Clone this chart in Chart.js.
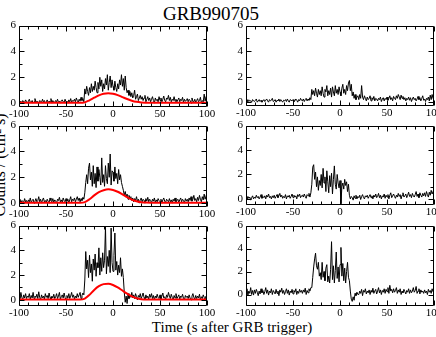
<!DOCTYPE html>
<html><head><meta charset="utf-8">
<script src="https://cdn.jsdelivr.net/npm/chart.js@4/dist/chart.umd.min.js"></script>
<style>
html,body{margin:0;padding:0;background:#fff;overflow:hidden;width:436px;height:337px;position:relative;}
canvas{position:absolute;}
.t{position:absolute;font-family:"Liberation Serif","Times New Roman",serif;color:#000;white-space:nowrap;line-height:1;}
</style></head><body>
<div class="t" style="left:211px;top:13px;font-size:19px;transform:translate(-50%,-50%)">GRB990705</div>
<div class="t" style="left:232px;top:327px;font-size:15px;transform:translate(-50%,-50%)">Time (s after GRB trigger)</div>
<div class="t" style="left:0px;top:165px;font-size:16px;transform:translate(-50%,-50%) rotate(-90deg)">Counts / (cm² s)</div>
<script>
// ---------- data (1 s bins) ----------
const times = [
-100,-99,-98,-97,-96,-95,-94,-93,-92,-91,
-90,-89,-88,-87,-86,-85,-84,-83,-82,-81,
-80,-79,-78,-77,-76,-75,-74,-73,-72,-71,
-70,-69,-68,-67,-66,-65,-64,-63,-62,-61,
-60,-59,-58,-57,-56,-55,-54,-53,-52,-51,
-50,-49,-48,-47,-46,-45,-44,-43,-42,-41,
-40,-39,-38,-37,-36,-35,-34,-33,-32,-31,
-30,-29,-28,-27,-26,-25,-24,-23,-22,-21,
-20,-19,-18,-17,-16,-15,-14,-13,-12,-11,
-10,-9,-8,-7,-6,-5,-4,-3,-2,-1,
0,1,2,3,4,5,6,7,8,9,
10,11,12,13,14,15,16,17,18,19,
20,21,22,23,24,25,26,27,28,29,
30,31,32,33,34,35,36,37,38,39,
40,41,42,43,44,45,46,47,48,49,
50,51,52,53,54,55,56,57,58,59,
60,61,62,63,64,65,66,67,68,69,
70,71,72,73,74,75,76,77,78,79,
80,81,82,83,84,85,86,87,88,89,
90,91,92,93,94,95,96,97,98,99,
100];

const countsTopLeft = [
0.1,0.05,0.15,0.0,0.2,0.1,0.05,0.25,0.1,0.0,
0.15,0.3,0.05,0.1,0.2,0.0,0.1,0.35,0.05,0.15,
0.1,0.0,0.2,0.15,0.05,0.3,0.1,0.2,0.0,0.1,
0.25,0.05,0.15,0.1,0.35,0.0,0.2,0.1,0.05,0.2,
0.1,0.3,0.05,0.15,0.0,0.2,0.25,0.1,0.05,0.3,
0.1,0.15,0.0,0.25,0.1,0.35,0.05,0.2,0.15,0.3,
0.1,0.4,0.2,0.05,0.3,0.15,0.45,0.2,0.35,0.1,
1.1,0.7,1.3,0.9,0.6,1.2,0.8,1.5,0.9,1.3,
1.0,1.7,1.2,0.8,1.6,1.1,2.0,1.3,1.8,0.9,
1.5,1.1,1.9,1.4,2.2,1.0,1.6,2.1,1.2,1.8,
1.3,1.0,1.7,1.2,0.9,1.5,1.1,1.8,1.4,2.2,
1.3,1.9,1.0,2.1,1.2,0.8,1.0,0.6,0.9,0.5,
0.8,0.4,0.6,1.0,0.3,0.5,0.7,0.2,0.4,0.6,
0.3,0.5,0.2,0.4,0.6,0.1,0.3,0.5,0.2,0.4,
0.1,0.3,0.5,0.2,0.0,0.4,0.2,0.3,0.1,0.5,
0.2,0.4,0.1,0.3,0.55,0.2,0.1,0.4,0.3,0.6,
0.2,0.45,0.1,0.3,0.2,0.5,0.15,0.3,0.1,0.25,
0.4,0.1,0.3,0.2,0.45,0.05,0.3,0.15,0.2,0.35,
0.1,0.3,0.2,0.0,0.4,0.15,0.1,0.3,0.05,0.2,
0.35,0.1,0.2,0.45,0.0,0.2,0.1,0.7,0.15,0.5,
0.3];

const countsTopRight = [
0.1,0.0,0.2,0.05,0.15,0.1,0.0,0.2,0.1,0.05,
0.15,0.25,0.0,0.1,0.2,0.05,0.15,0.0,0.1,0.2,
0.05,0.15,0.25,0.1,0.0,0.2,0.1,0.15,0.3,0.05,
0.1,0.2,0.0,0.15,0.1,0.25,0.05,0.2,0.1,0.0,
0.15,0.1,0.2,0.05,0.25,0.1,0.0,0.2,0.15,0.1,
0.2,0.05,0.1,0.25,0.15,0.0,0.2,0.1,0.3,0.15,
0.1,0.25,0.05,0.2,0.3,0.1,0.25,0.15,0.35,0.2,
1.0,0.6,0.9,0.5,1.1,0.7,0.4,1.0,0.6,0.9,
0.5,1.2,0.7,0.4,1.0,0.8,1.3,0.5,0.9,0.6,
1.1,0.4,1.2,0.8,0.5,1.3,0.7,1.0,0.6,1.2,
0.8,0.5,1.1,1.4,0.7,1.0,0.6,1.3,0.9,1.5,
1.7,0.9,1.4,0.5,0.8,0.3,0.6,0.2,0.4,0.5,
0.2,0.6,0.3,1.3,0.4,0.2,0.5,0.3,0.1,0.4,
0.2,0.3,0.5,0.1,0.35,0.2,0.45,0.1,0.3,0.25,
0.1,0.3,0.2,0.4,0.05,0.25,0.35,0.1,0.3,0.2,
0.4,0.15,0.3,0.5,0.2,0.35,0.1,0.45,0.3,0.2,
0.5,0.3,0.6,0.4,0.2,0.55,0.3,0.45,0.2,0.35,
0.1,0.3,0.2,0.4,0.15,0.35,0.05,0.25,0.4,0.2,
0.3,0.1,0.25,0.45,0.2,0.35,0.1,0.3,0.5,0.15,
0.25,0.05,0.3,0.2,0.4,0.1,0.55,0.2,0.6,0.3,
0.45];

const countsMidLeft = [
0.1,0.3,0.0,0.2,0.15,0.05,0.35,0.1,0.2,0.0,
0.25,0.1,0.4,0.05,0.2,0.3,0.0,0.15,0.35,0.1,
0.2,0.5,0.1,0.3,0.0,0.25,0.4,0.1,0.2,0.05,
0.3,0.15,0.0,0.4,0.2,0.1,0.35,0.05,0.25,0.15,
0.0,0.3,0.2,0.45,0.1,0.25,0.05,0.4,0.2,0.1,
0.35,0.15,0.3,0.0,0.25,0.5,0.1,0.3,0.2,0.4,
0.1,0.3,0.5,0.2,0.4,0.1,0.35,0.2,0.45,0.3,
0.8,1.6,2.2,1.5,2.7,3.1,1.8,2.4,1.3,2.9,
1.5,2.3,1.2,2.8,1.7,2.6,2.0,1.4,3.5,1.6,
2.2,1.3,2.9,1.9,1.5,3.1,2.0,3.8,1.4,2.5,
2.4,1.7,2.8,1.9,2.3,1.5,2.6,1.8,2.2,1.6,
1.3,1.0,0.6,0.9,0.5,0.7,0.3,0.6,0.4,0.5,
0.2,0.4,0.1,0.35,0.2,0.5,0.15,0.3,0.0,0.25,
0.4,0.1,0.3,0.2,0.0,0.35,0.15,0.45,0.1,0.3,
0.2,0.0,0.3,0.15,0.4,0.05,0.25,0.1,0.35,0.2,
0.1,0.3,0.0,0.25,0.4,0.15,0.05,0.3,0.2,0.1,
0.35,0.1,0.25,0.0,0.3,0.15,0.4,0.1,0.2,0.3,
0.05,0.25,0.4,0.1,0.3,0.2,0.0,0.35,0.15,0.3,
0.1,0.4,0.2,0.5,0.15,0.3,0.6,0.2,0.35,0.1,
0.45,0.2,0.6,0.3,0.1,0.5,0.25,0.7,0.3,0.55,
0.8];

const countsMidRight = [
0.1,-0.05,0.2,0.05,0.15,-0.1,0.1,0.25,0.0,0.15,
0.05,0.3,0.1,0.2,0.0,0.15,0.35,0.05,0.2,0.1,
0.25,0.0,0.3,0.15,0.4,0.1,0.2,0.0,0.25,0.1,
0.3,0.05,0.2,0.35,0.1,0.25,0.45,0.15,0.3,0.05,
0.2,0.1,0.35,0.0,0.25,0.15,0.3,0.05,0.2,0.4,
0.1,0.3,0.15,0.25,0.0,0.35,0.2,0.4,0.1,0.25,
0.3,0.15,0.4,0.2,0.05,0.35,0.25,0.45,0.15,0.5,
1.2,2.6,2.8,1.6,2.2,1.0,1.8,0.7,1.5,1.1,
2.0,0.9,2.5,1.3,1.8,0.6,2.3,1.4,0.5,1.9,
1.0,2.1,0.4,1.6,2.7,1.2,0.8,2.0,1.3,0.9,
1.5,-0.4,1.0,1.3,0.8,1.6,1.1,1.4,0.6,1.2,
0.3,0.0,0.2,0.1,-0.1,0.25,0.05,0.3,0.0,0.2,
0.1,0.3,-0.05,0.2,0.35,0.1,0.0,0.25,0.15,0.3,
0.05,0.2,0.35,0.1,0.25,0.0,0.3,0.15,0.4,0.1,
0.2,0.45,0.1,0.3,0.0,0.25,0.15,0.4,0.05,0.3,
0.15,0.35,0.0,0.3,0.5,0.1,0.25,0.4,0.2,0.05,
0.3,0.15,0.45,0.2,0.35,0.0,0.3,0.5,0.15,0.25,
0.4,0.1,0.3,0.55,0.2,0.35,0.1,0.45,0.25,0.15,
0.35,0.6,0.2,0.4,0.1,0.5,0.3,0.15,0.45,0.25,
0.5,0.2,0.6,0.35,0.15,0.55,0.3,0.7,0.4,0.6,
0.8];

const countsBotLeft = [
0.3,0.1,0.6,0.2,0.0,0.4,0.15,0.5,0.1,0.3,
0.2,0.5,0.05,0.35,0.15,0.6,0.1,0.3,0.2,0.45,
0.1,0.65,0.2,0.0,0.4,0.15,0.3,0.05,0.5,0.2,
0.35,0.1,0.55,0.2,0.0,0.3,0.15,0.45,0.1,0.25,
0.5,0.1,0.3,0.6,0.05,0.25,0.4,0.15,0.55,0.2,
0.0,0.35,0.15,0.5,0.1,0.3,0.6,0.2,0.4,0.05,
0.3,0.15,0.5,0.2,0.4,0.6,0.1,0.35,0.55,0.4,
1.6,3.9,2.5,3.2,1.8,3.6,2.2,2.9,1.5,3.3,
2.4,3.7,1.9,3.0,2.6,4.2,2.0,3.4,2.3,3.8,
2.6,3.2,5.9,2.1,3.5,2.7,4.0,2.2,5.8,3.0,
2.3,3.6,5.4,2.4,3.1,2.0,2.8,2.2,3.4,1.9,
2.5,1.8,0.6,-0.2,0.3,-0.3,0.5,0.1,0.4,0.2,
0.6,0.15,0.4,0.1,0.5,0.25,0.0,0.35,0.2,0.5,
0.1,0.3,0.55,0.2,0.0,0.4,0.15,0.3,0.05,0.45,
0.2,0.5,0.1,0.35,0.0,0.3,0.15,0.45,0.2,0.1,
0.4,0.05,0.3,0.55,0.15,0.25,0.0,0.4,0.2,0.6,
0.3,0.1,0.45,0.2,0.0,0.35,0.15,0.5,0.1,0.25,
0.4,0.05,0.3,0.2,0.45,0.1,0.0,0.35,0.2,0.3,
0.1,0.4,0.15,0.0,0.3,0.5,0.2,0.05,0.35,0.1,
0.3,0.15,0.45,0.0,0.25,0.1,0.4,0.2,0.05,0.3,
0.15];

const countsBotRight = [
0.2,0.5,-0.1,0.3,0.1,0.6,0.0,0.35,-0.05,0.4,
0.1,0.45,0.2,-0.1,0.3,0.05,0.5,0.15,0.35,0.0,
0.25,0.6,0.1,0.4,-0.05,0.3,0.15,0.5,0.0,0.35,
0.2,0.05,0.45,0.1,0.3,-0.1,0.4,0.2,0.55,0.1,
0.35,0.0,0.25,0.5,0.1,0.4,-0.05,0.3,0.15,0.45,
0.05,0.35,0.2,0.5,0.0,0.3,0.1,0.45,0.2,0.35,
0.1,0.4,0.2,0.55,0.0,0.35,0.15,0.5,0.3,0.6,
0.6,1.5,2.4,3.1,3.6,2.5,2.2,2.8,1.6,1.9,
1.3,2.8,1.5,2.0,1.2,2.3,2.6,1.1,1.6,1.0,
2.2,4.6,1.3,2.5,1.0,2.1,3.7,1.4,2.4,1.1,
2.6,4.1,1.6,2.7,1.2,2.3,1.0,2.0,2.8,1.5,
1.2,0.3,-0.4,-0.6,-0.2,-0.5,0.1,-0.1,0.2,0.0,
0.0,0.3,0.1,0.45,-0.1,0.35,0.2,0.5,0.05,0.3,
0.15,0.4,0.0,0.35,0.2,0.55,0.1,0.3,0.45,0.05,
0.3,0.6,0.15,0.4,0.0,0.35,0.2,0.5,0.1,0.45,
0.25,0.6,0.1,0.8,0.3,0.45,0.15,0.5,0.2,0.35,
0.6,0.1,0.4,0.2,0.5,0.0,0.3,0.15,0.45,0.25,
0.05,0.35,0.2,0.5,0.1,0.4,0.15,0.3,0.6,0.2,
0.35,0.7,0.1,0.3,0.5,0.05,0.4,0.2,0.3,0.1,
0.4,0.15,0.3,0.0,0.45,0.2,0.35,0.1,0.5,0.25,
0.4];

const modelTimes = [
-100,-95,-90,-85,-80,-75,-70,-65,-60,-55,-50,-45,-40,-35,
-30,-25,-20,-15,-10,-5,0,5,10,15,20,25,30,35,
40,45,50,55,60,65,70,75,80,85,90,95,100];

const modelTopLeft = [
0.02,0.02,0.02,0.02,0.02,0.02,0.02,0.02,0.02,0.02,0.02,0.02,0.02,0.02,
0.06,0.22,0.42,0.6,0.72,0.76,0.72,0.62,0.47,0.32,0.19,0.1,0.05,0.03,
0.02,0.02,0.02,0.02,0.02,0.02,0.02,0.02,0.02,0.02,0.02,0.02,0.02];

const modelMidLeft = [
0.03,0.03,0.03,0.03,0.03,0.03,0.03,0.03,0.03,0.03,0.03,0.03,0.03,0.03,
0.08,0.3,0.6,0.85,1.0,1.07,1.02,0.88,0.68,0.46,0.27,0.14,0.06,0.04,
0.03,0.03,0.03,0.03,0.03,0.03,0.03,0.03,0.03,0.03,0.03,0.03,0.03];

const modelBotLeft = [
0.02,0.02,0.02,0.02,0.02,0.02,0.02,0.02,0.02,0.02,0.02,0.02,0.02,0.02,
0.1,0.4,0.8,1.1,1.27,1.3,1.2,1.0,0.75,0.5,0.28,0.13,0.05,0.02,
0.02,0.02,0.02,0.02,0.02,0.02,0.02,0.02,0.02,0.02,0.02,0.02,0.02];

const xTickLabels = [-100,-50,0,50,100];
const yTickLabels = [0,2,4,6];

// ---------- layout ----------
const panels = [
  {counts: countsTopLeft,  model: modelTopLeft, box:[19,24,207,107],  ymin:-0.3},
  {counts: countsTopRight, model: null,         box:[246,24,434,106], ymin:-0.3},
  {counts: countsMidLeft,  model: modelMidLeft, box:[19,124,207,207], ymin:-0.3},
  {counts: countsMidRight, model: null,         box:[246,124,434,205],ymin:-0.5},
  {counts: countsBotLeft,  model: modelBotLeft, box:[19,224,207,306], ymin:-0.5},
  {counts: countsBotRight, model: null,         box:[246,224,434,306],ymin:-1.0}
];

const FAMILY = "'Liberation Serif', 'Times New Roman', serif";
const FONT = {family: FAMILY, size:11};

const framePlugin = {
  id:'frame',
  afterDatasetsDraw(chart){
    const {ctx, chartArea:a, scales:{x, y}} = chart;
    ctx.save();
    ctx.strokeStyle = '#000';
    ctx.lineWidth = 1;
    const L = Math.round(a.left)+0.5, R = Math.round(a.right)-0.5;
    const T = Math.round(a.top)+0.5, B = Math.round(a.bottom)-0.5;
    ctx.beginPath();
    ctx.rect(L, T, R-L, B-T);
    ctx.stroke();
    ctx.beginPath();
    for (let v = -100; v <= 100; v += 10) {
      const px = Math.round(x.getPixelForValue(v))+0.5;
      const len = (v % 50 === 0) ? 5 : 3;
      ctx.moveTo(px, T); ctx.lineTo(px, T+len);
      ctx.moveTo(px, B); ctx.lineTo(px, B-len);
    }
    for (let v = 0; v <= 6; v += 1) {
      const py = Math.round(y.getPixelForValue(v))+0.5;
      const len = (v % 2 === 0) ? 5 : 3;
      ctx.moveTo(L, py); ctx.lineTo(L+len, py);
      ctx.moveTo(R, py); ctx.lineTo(R-len, py);
    }
    ctx.stroke();
    ctx.restore();
  }
};

function draw(){
panels.forEach(p => {
  const [L,T,R,B] = p.box;
  const isLeft = L < 100;
  const mL = isLeft ? 19 : 30, mT = 8, mR = 12, mB = 16;
  const cv = document.createElement('canvas');
  const W = (R-L)+mL+mR, H = (B-T)+mT+mB;
  cv.width = W; cv.height = H;
  cv.style.width = W+'px'; cv.style.height = H+'px';
  cv.style.left = (L-mL)+'px'; cv.style.top = (T-mT)+'px';
  document.body.appendChild(cv);

  const datasets = [];
  if (p.model) {
    datasets.push({
      data: modelTimes.map((t,i)=>({x:t, y:p.model[i]})),
      borderColor:'#ff0000', borderWidth:2, pointRadius:0,
      cubicInterpolationMode:'monotone', order:0
    });
  }
  datasets.push({
    data: times.map((t,i)=>({x:t, y:p.counts[i]})),
    borderColor:'#000000', borderWidth:1, pointRadius:0, tension:0, order:1
  });

  new Chart(cv, {
    type:'line',
    data:{datasets},
    options:{
      responsive:false, animation:false, devicePixelRatio:1,
      layout:{padding:{left:0, top:mT, right:mR, bottom:0}},
      plugins:{legend:{display:false}, tooltip:{enabled:false}, title:{display:false}},
      scales:{
        x:{type:'linear', min:-100, max:100,
           grid:{display:false, drawTicks:false}, border:{display:false},
           afterFit(s){ s.height = mB; },
           afterBuildTicks(s){ s.ticks = xTickLabels.map(v=>({value:v})); },
           ticks:{autoSkip:false, maxRotation:0, minRotation:0, padding:1, color:'#000', font:FONT}},
        y:{type:'linear', min:p.ymin, max:6,
           grid:{display:false, drawTicks:false}, border:{display:false},
           afterFit(s){ s.width = mL; },
           afterBuildTicks(s){ s.ticks = yTickLabels.map(v=>({value:v})); },
           ticks:{padding:3, color:'#000', font:FONT}}
      }
    },
    plugins:[framePlugin]
  });
});
}
if (document.fonts && document.fonts.load) {
  document.fonts.load("11px 'Liberation Serif'").then(draw, draw);
} else { draw(); }
</script>
</body></html>
